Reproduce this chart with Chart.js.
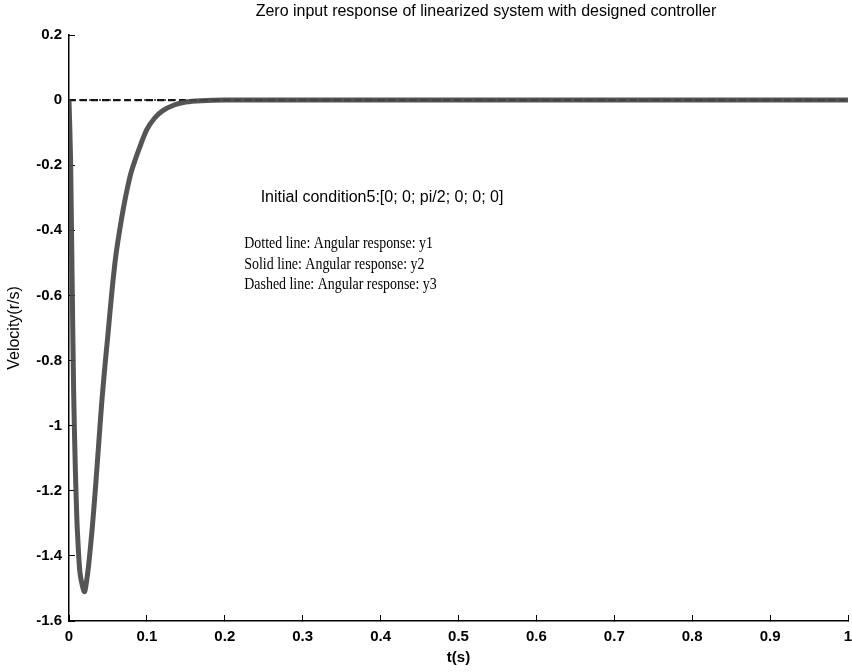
<!DOCTYPE html>
<html>
<head>
<meta charset="utf-8">
<script src="https://cdn.jsdelivr.net/npm/chart.js@4.4.1/dist/chart.umd.min.js"></script>
<style>
  body { margin: 0; background: #fff; }
  canvas { display: block; }
</style>
</head>
<body>
<canvas id="respChart" width="852" height="672"></canvas>
<script>
// time (s) and responses
const timeY2 = [0, 0.002, 0.004, 0.006, 0.008, 0.010, 0.012, 0.014, 0.017, 0.020,
  0.023, 0.026, 0.030, 0.034, 0.038, 0.042, 0.046, 0.050, 0.055, 0.060,
  0.065, 0.070, 0.075, 0.080, 0.090, 0.100, 0.110, 0.120, 0.135, 0.150,
  0.170, 0.200, 0.300, 0.500, 0.700, 1.0];
const y2 = [0, -0.18, -0.55, -0.9, -1.12, -1.28, -1.38, -1.45, -1.49, -1.51,
  -1.47, -1.41, -1.31, -1.19, -1.06, -0.93, -0.82, -0.72, -0.59, -0.48,
  -0.40, -0.33, -0.27, -0.22, -0.15, -0.09, -0.055, -0.033, -0.015, -0.006,
  -0.002, 0, 0, 0, 0, 0];
const timeY1 = [0, 1];
const y1 = [0, 0];
const timeY3 = [0, 1];
const y3 = [0, 0];

const xTicks = [0, 0.1, 0.2, 0.3, 0.4, 0.5, 0.6, 0.7, 0.8, 0.9, 1];
const yTicks = [0.2, 0, -0.2, -0.4, -0.6, -0.8, -1, -1.2, -1.4, -1.6];

const titleText = 'Zero input response of linearized system with designed controller';
const noteText = 'Initial condition5:[0; 0; pi/2; 0; 0; 0]';
const legendLines = [
  'Dotted line: Angular response: y1',
  'Solid line: Angular response: y2',
  'Dashed line: Angular response: y3'
];

const sans = '"Liberation Sans", Arial, sans-serif';

function toPoints(xs, ys) {
  return xs.map((x, i) => ({ x: x, y: ys[i] }));
}

function fmt(v) {
  return String(Math.round(v * 10) / 10);
}

const textPlugin = {
  id: 'textPlugin',
  afterDraw(chart) {
    const ctx = chart.ctx;
    const xs = chart.scales.x, ys = chart.scales.y;
    ctx.save();
    ctx.fillStyle = '#000';
    ctx.textBaseline = 'middle';
    ctx.textAlign = 'center';
    ctx.font = '16px ' + sans;
    // the scanned title sits a bit right of the axes centre
    ctx.fillText(titleText, 486, 12);

    ctx.textAlign = 'left';
    ctx.fillText(noteText, xs.getPixelForValue(0.246), ys.getPixelForValue(-0.30));

    // serif block is narrow in the scan: squeeze it horizontally
    ctx.font = '16px "Liberation Serif", "Times New Roman", serif';
    const rows = [-0.442, -0.506, -0.568];
    const left = xs.getPixelForValue(0.225);
    legendLines.forEach((t, i) => {
      ctx.save();
      ctx.translate(left, ys.getPixelForValue(rows[i]));
      ctx.scale(0.87, 1);
      ctx.fillText(t, 0, 0);
      ctx.restore();
    });
    ctx.restore();
  }
};

const data = {
  datasets: [{
    label: 'y2',
    data: toPoints(timeY2, y2),
    borderColor: 'rgba(70, 70, 70, 0.92)',
    borderWidth: 5,
    pointRadius: 0,
    tension: 0.3
  }, {
    label: 'y1',
    data: toPoints(timeY1, y1),
    borderColor: '#222',
    borderWidth: 1.5,
    borderDash: [2, 3],
    pointRadius: 0
  }, {
    label: 'y3',
    data: toPoints(timeY3, y3),
    borderColor: '#111',
    borderWidth: 2.2,
    borderDash: [7, 4],
    pointRadius: 0
  }]
};

const config = {
  type: 'line',
  data: data,
  options: {
    responsive: false,
    animation: false,
    layout: {
      padding: { top: 35, right: 4, bottom: 0, left: 0 }
    },
    plugins: {
      legend: { display: false },
      tooltip: { enabled: false },
      title: { display: false }
    },
    scales: {
      x: {
        type: 'linear',
        min: 0,
        max: 1,
        afterFit(scale) {
          scale.height = 51;
          scale.paddingLeft = 0;
          scale.paddingRight = 4;
        },
        afterBuildTicks(scale) { scale.ticks = xTicks.map(v => ({ value: v })); },
        border: { color: '#000', width: 1.5 },
        grid: {
          drawOnChartArea: false,
          drawTicks: true,
          tickLength: -6,
          color: '#000',
          lineWidth: 1
        },
        ticks: {
          padding: 13,
          color: '#000',
          maxRotation: 0,
          font: { family: sans, size: 15, weight: 'bold' },
          callback: v => fmt(v)
        },
        title: {
          display: true,
          text: 't(s)',
          color: '#000',
          padding: { top: 0, bottom: 5 },
          font: { family: sans, size: 15, weight: 'bold' }
        }
      },
      y: {
        type: 'linear',
        min: -1.6,
        max: 0.2,
        afterFit(scale) { scale.width = 69; },
        afterBuildTicks(scale) { scale.ticks = yTicks.map(v => ({ value: v })); },
        border: { color: '#000', width: 1.5 },
        grid: {
          drawOnChartArea: false,
          drawTicks: true,
          tickLength: -6,
          color: '#000',
          lineWidth: 1
        },
        ticks: {
          padding: 13,
          color: '#000',
          font: { family: sans, size: 15, weight: 'bold' },
          callback: v => fmt(v)
        },
        title: {
          display: true,
          text: 'Velocity(r/s)',
          color: '#000',
          padding: { top: 5, bottom: 0 },
          font: { family: sans, size: 16 }
        }
      }
    }
  },
  plugins: [textPlugin]
};

var respChart = new Chart(
  document.getElementById('respChart'),
  config
);
</script>
</body>
</html>
